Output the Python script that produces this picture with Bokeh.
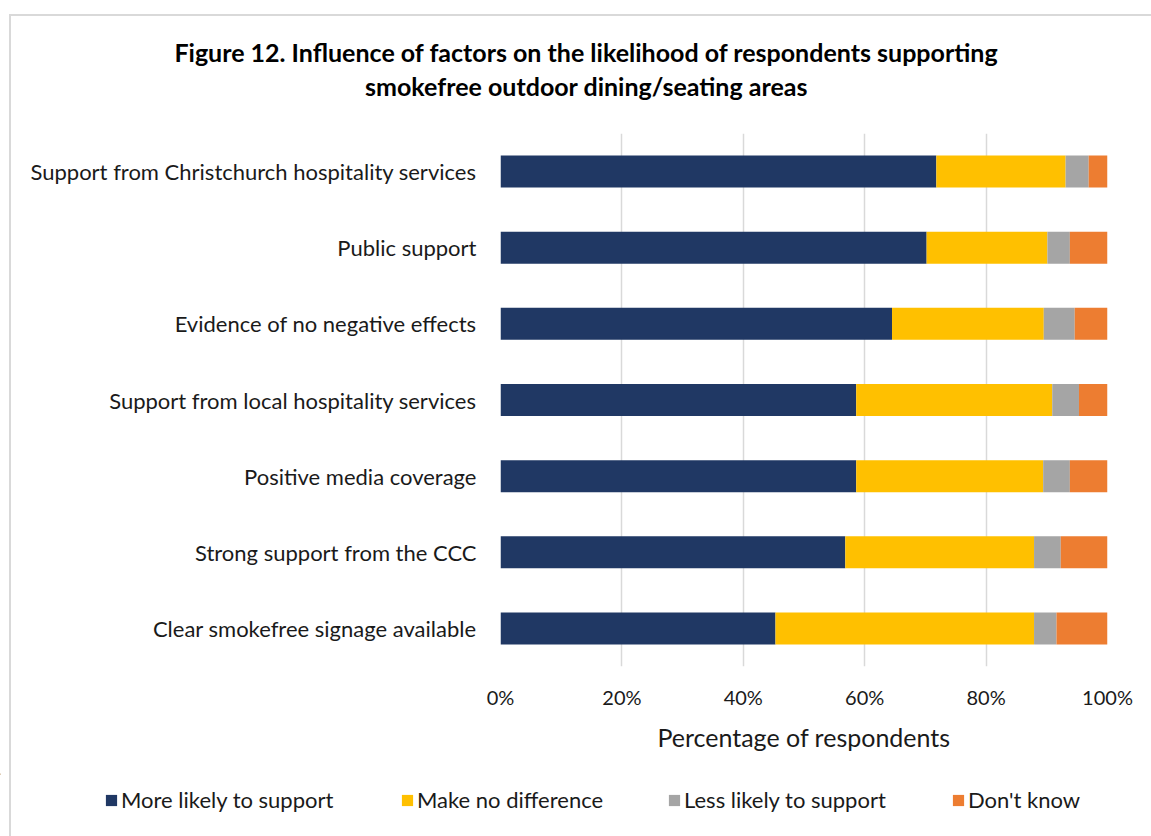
from bokeh.plotting import figure
from bokeh.layouts import column
from bokeh.models import FactorRange, Range1d, NumeralTickFormatter, Legend, LegendItem, FixedTicker
from bokeh.core.properties import value
from bokeh.embed import file_html
from bokeh.resources import INLINE

categories = [
    "Support from Christchurch hospitality services",
    "Public support",
    "Evidence of no negative effects",
    "Support from local hospitality services",
    "Positive media coverage",
    "Strong support from the CCC",
    "Clear smokefree signage available",
]
more_likely = [71.8, 70.2, 64.5, 58.6, 58.6, 56.8, 45.3]
no_difference = [21.3, 19.9, 25.0, 32.3, 30.8, 31.1, 42.6]
less_likely = [3.8, 3.7, 5.1, 4.4, 4.4, 4.4, 3.7]
dont_know = [3.1, 6.2, 5.4, 4.7, 6.2, 7.7, 8.4]
series_names = ["More likely to support", "Make no difference", "Less likely to support", "Don't know"]
colors = ["#203864", "#FFC000", "#A5A5A5", "#ED7D31"]
x_ticks = [0, 20, 40, 60, 80, 100]
title_lines = ["Figure 12. Influence of factors on the likelihood of respondents supporting",
               "smokefree outdoor dining/seating areas"]

FONT = "Lato"
W = 1151
TEXT = "#1a1a1a"

# chart-area border (drawn as CSS background lines behind transparent canvases)
LEFT_LINE = {
    "background-image": "linear-gradient(#d9d9d9, #d9d9d9)",
    "background-position": "9px 0px",
    "background-size": "2px 100%",
    "background-repeat": "no-repeat",
}

# ---------- title strip ----------
pt = figure(width=W, height=133, x_range=Range1d(0, W), y_range=Range1d(133, 0),
            output_backend="svg", toolbar_location=None,
            x_axis_location=None, y_axis_location=None, frame_align=False,
            min_border_left=0, min_border_right=0, min_border_top=0, min_border_bottom=0)
pt.grid.visible = False
pt.outline_line_color = None
pt.background_fill_color = None
pt.border_fill_color = None
pt.text(x=[586, 586], y=[51, 85], text=title_lines, text_align="center", text_baseline="middle",
        text_font=value(FONT), text_font_size="25px", text_font_style="bold", text_color="#000000")

# ---------- main chart ----------
data = {
    "cat": categories,
    "more": [v / 100 for v in more_likely],
    "nodiff": [v / 100 for v in no_difference],
    "less": [v / 100 for v in less_likely],
    "dk": [v / 100 for v in dont_know],
}

p = figure(
    width=W, height=640,
    y_range=FactorRange(factors=categories[::-1]),
    x_range=Range1d(0, 1),
    output_backend="svg", toolbar_location=None, frame_align=False,
    min_border_left=500, min_border_right=44,
    min_border_top=0, min_border_bottom=107,
    styles=LEFT_LINE,
)
p.outline_line_color = None
p.background_fill_color = "white"
p.border_fill_color = None

renderers = p.hbar_stack(["more", "nodiff", "less", "dk"], y="cat", height=0.42,
                         color=colors, source=data, line_color=None)

p.xaxis.ticker = FixedTicker(ticks=[t / 100 for t in x_ticks])
p.xaxis.formatter = NumeralTickFormatter(format="0%")
p.xaxis.axis_line_color = None
p.xaxis.major_tick_line_color = None
p.xaxis.minor_tick_line_color = None
p.xaxis.major_label_text_font = FONT
p.xaxis.major_label_text_font_size = "20px"
p.xaxis.major_label_text_color = TEXT
p.xaxis.major_label_standoff = 12
p.xaxis.axis_label = "Percentage of respondents"
p.xaxis.axis_label_text_font = FONT
p.xaxis.axis_label_text_font_size = "25px"
p.xaxis.axis_label_text_font_style = "normal"
p.xaxis.axis_label_text_color = TEXT
p.xaxis.axis_label_standoff = 10

p.yaxis.axis_line_color = None
p.yaxis.major_tick_line_color = None
p.yaxis.minor_tick_line_color = None
p.yaxis.major_label_text_font = FONT
p.yaxis.major_label_text_font_size = "22px"
p.yaxis.major_label_text_color = TEXT
p.yaxis.major_label_standoff = 18

p.ygrid.grid_line_color = None
p.xgrid.grid_line_color = "#d9d9d9"
p.xgrid.grid_line_width = 1.5

# ---------- legend strip ----------
pl = figure(width=W, height=63, x_range=Range1d(0, W), y_range=Range1d(63, 0),
            output_backend="svg", toolbar_location=None,
            x_axis_location=None, y_axis_location=None, frame_align=False,
            min_border_left=0, min_border_right=0, min_border_top=0, min_border_bottom=0,
            styles=LEFT_LINE)
pl.grid.visible = False
pl.outline_line_color = None
pl.background_fill_color = None
pl.border_fill_color = None
legend_x = [104, 400, 667, 951]
for name, c, lx in zip(series_names, colors, legend_x):
    # key-only renderer: its single bar lies outside the visible range
    r = pl.vbar(x=[-1000], top=[1], bottom=[0], width=1, fill_color=c, line_color=None)
    lg = Legend(items=[LegendItem(label=name, renderers=[r])], location=(lx, 23),
                orientation="horizontal", glyph_width=14, glyph_height=14,
                label_standoff=3, padding=0, margin=0, border_line_color=None,
                background_fill_alpha=0, label_text_font=FONT,
                label_text_font_size="22px", label_text_color=TEXT, label_height=20)
    pl.add_layout(lg, "center")

layout = column(pt, p, pl, spacing=0, styles={
    "background-color": "white",
    "background-image": "linear-gradient(#d9d9d9, #d9d9d9), linear-gradient(#d9d9d9, #d9d9d9)",
    "background-position": "9px 14px, 9px 14px",
    "background-size": "2px 100%, 100% 2px",
    "background-repeat": "no-repeat",
})

open("out.html", "w").write(file_html(layout, INLINE))
